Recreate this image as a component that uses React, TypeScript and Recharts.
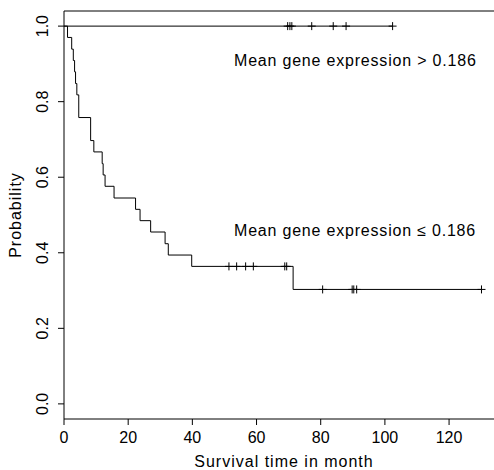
import React from 'react';
import { ComposedChart, Line, Scatter, XAxis, YAxis, ReferenceLine } from 'recharts';

// lower expression group: event times and KM estimate
const lowTimes = [0, 1.1, 2.4, 2.9, 3.3, 3.6, 4.0, 4.6, 8.3, 9.3, 11.9, 12.2, 12.8, 15.6, 22.3, 23.7, 27.0, 31.5, 32.5, 39.8, 71.4, 130.1];
const lowSurv = [1, 0.970, 0.939, 0.909, 0.879, 0.848, 0.818, 0.758, 0.697, 0.667, 0.636, 0.606, 0.576, 0.545, 0.515, 0.485, 0.455, 0.424, 0.394, 0.364, 0.303, 0.303];
const lowCensorTimes = [51.4, 53.8, 56.6, 59.0, 68.8, 69.4, 80.6, 89.8, 90.3, 91.2, 130.1];
const lowCensorSurv = [0.364, 0.364, 0.364, 0.364, 0.364, 0.364, 0.303, 0.303, 0.303, 0.303, 0.303];

// higher expression group: no events
const highTimes = [0, 102.4];
const highSurv = [1, 1];
const highCensorTimes = [69.7, 70.4, 71.0, 77.2, 83.9, 87.9, 102.4];
const highCensorSurv = [1, 1, 1, 1, 1, 1, 1];

const xTicks = [0, 20, 40, 60, 80, 100, 120];
const yTicks = [0, 0.2, 0.4, 0.6, 0.8, 1];
// the right part of the frame falls outside the picture, so the domain stops at the image edge
const xDomain = [0, 134];
const yDomain = [-0.04, 1.04];

const zip = (t: number[], s: number[]) => t.map((v, i) => ({ t: v, s: s[i] }));

const lowData = zip(lowTimes, lowSurv);
const lowCensor = zip(lowCensorTimes, lowCensorSurv);
const highData = zip(highTimes, highSurv);
const highCensor = zip(highCensorTimes, highCensorSurv);

const FONT = 'Liberation Sans, Arial, sans-serif';

const Cross = (props: any) => {
  const { cx, cy } = props;
  return <path d={`M${cx - 4},${cy}h8M${cx},${cy - 4}v8`} stroke="#000" strokeWidth={1} fill="none" />;
};

const XTick = (props: any) => {
  const { x, y, payload } = props;
  return (
    <text x={x} y={y} dy="0.71em" textAnchor="middle" fontSize={16} fontFamily={FONT} fill="#000">
      {payload.value}
    </text>
  );
};

const YTick = (props: any) => {
  const { x, y, payload } = props;
  return (
    <text x={x} y={y} textAnchor="middle" fontSize={16} fontFamily={FONT} fill="#000" transform={`rotate(-90 ${x} ${y})`}>
      {Number(payload.value).toFixed(1)}
    </text>
  );
};

export default function App() {
  return (
    <div style={{ position: 'absolute', left: 0, top: 0, width: 494, height: 470, background: '#fff' }}>
      <ComposedChart width={494} height={470} margin={{ top: 11, right: 0, bottom: 0, left: 0 }}>
        <XAxis
          type="number"
          dataKey="t"
          domain={xDomain}
          ticks={xTicks}
          interval={0}
          allowDataOverflow
          height={51}
          axisLine={{ stroke: '#000' }}
          tickSize={6}
          tickMargin={7}
          tickLine={{ stroke: '#000' }}
          tick={XTick}
        />
        <YAxis
          type="number"
          dataKey="s"
          domain={yDomain}
          ticks={yTicks}
          interval={0}
          allowDataOverflow
          width={64}
          axisLine={{ stroke: '#000' }}
          tickSize={6}
          tickMargin={10}
          tickLine={{ stroke: '#000' }}
          tick={YTick}
        />
        {/* top edge of the frame */}
        <ReferenceLine y={yDomain[1]} stroke="#000" strokeWidth={1} ifOverflow="visible" />
        <Line data={highData} dataKey="s" type="stepAfter" stroke="#000" strokeWidth={1} dot={false} isAnimationActive={false} />
        <Line data={lowData} dataKey="s" type="stepAfter" stroke="#000" strokeWidth={1} dot={false} isAnimationActive={false} />
        <Scatter data={highCensor} dataKey="s" shape={Cross} isAnimationActive={false} />
        <Scatter data={lowCensor} dataKey="s" shape={Cross} isAnimationActive={false} />
        <text x={234} y={66} fontSize={16} letterSpacing={0.8} fontFamily={FONT} fill="#000">Mean gene expression {'>'} 0.186</text>
        <text x={234} y={236} fontSize={16} letterSpacing={0.8} fontFamily={FONT} fill="#000">Mean gene expression {'\u2264'} 0.186</text>
        <text x={284} y={467} textAnchor="middle" fontSize={16} letterSpacing={1} fontFamily={FONT} fill="#000">Survival time in month</text>
        <text x={21} y={215} textAnchor="middle" fontSize={16} letterSpacing={1} fontFamily={FONT} fill="#000" transform="rotate(-90 21 215)">Probability</text>
      </ComposedChart>
    </div>
  );
}
